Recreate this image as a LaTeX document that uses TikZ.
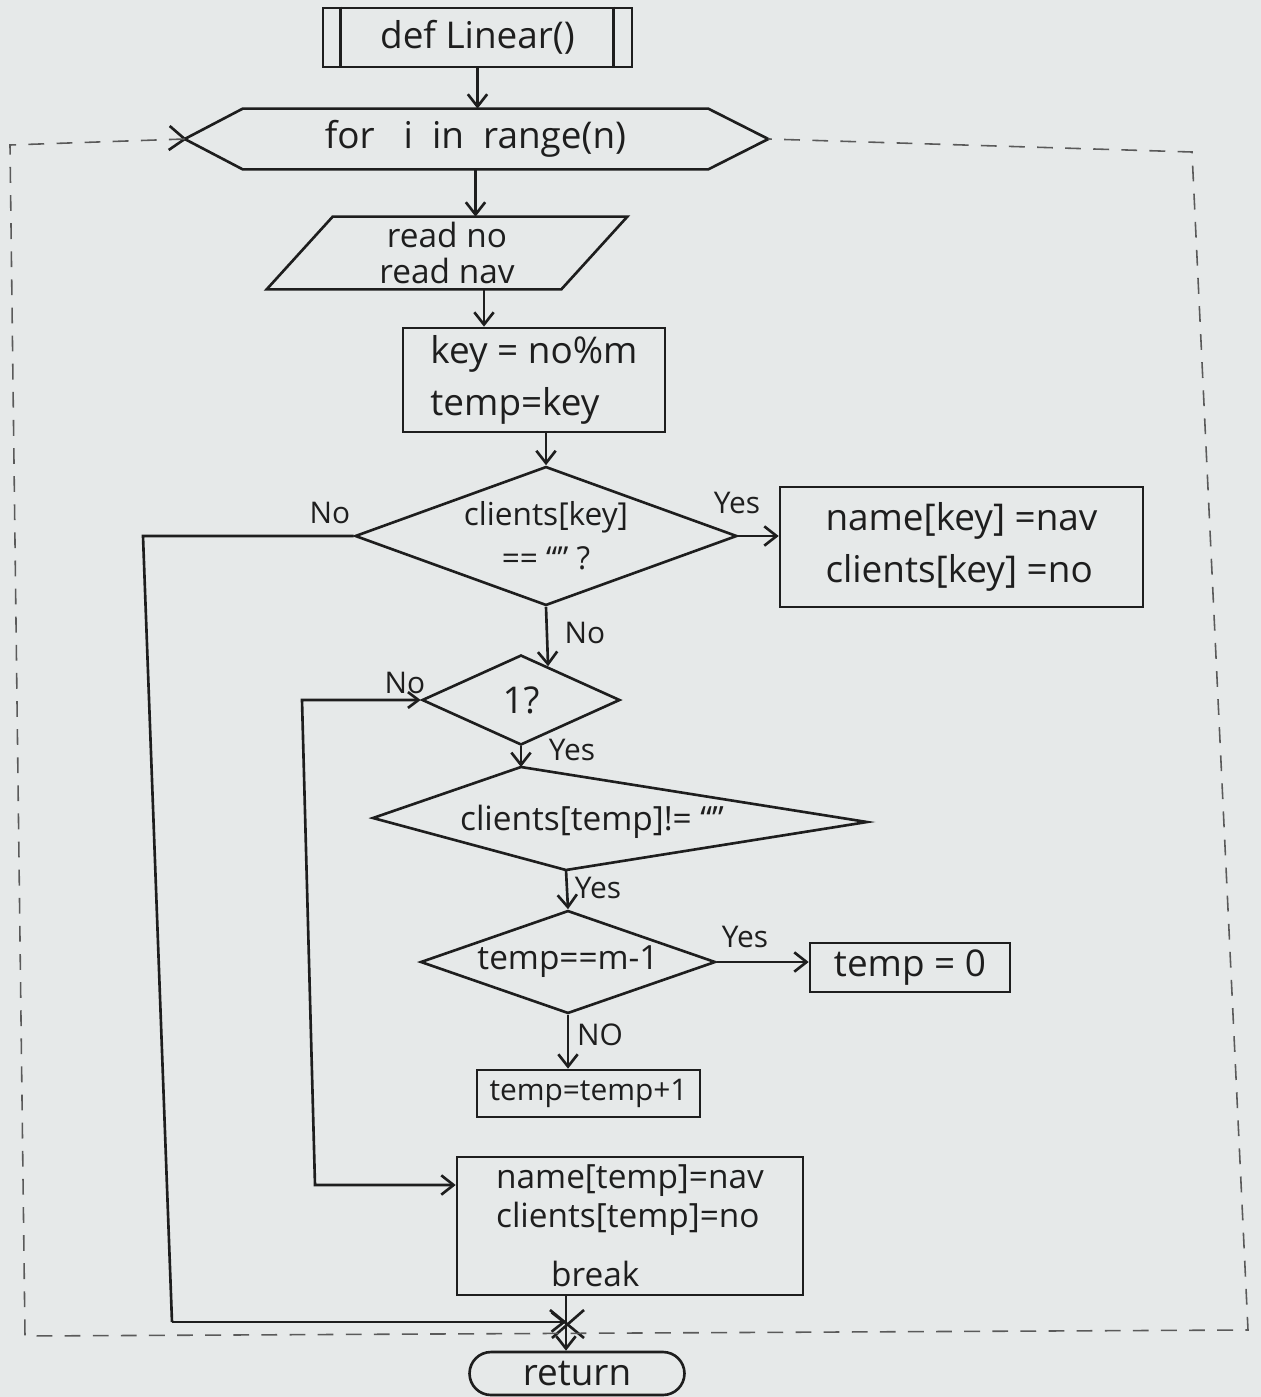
\documentclass[tikz,border=0pt]{standalone}
\usepackage{fontspec}
\setmainfont{Open Sans}
\usetikzlibrary{arrows.meta,shapes.geometric,calc}
\definecolor{ink}{HTML}{1E1E1E}
\definecolor{paper}{HTML}{E6E9E9}
\definecolor{dashink}{HTML}{5A5A5A}
\begin{document}
\begin{tikzpicture}[x=0.02cm,y=-0.02cm,
  ln/.style={draw=ink, line width=1.5pt},
  arr/.style={ln, -{Straight Barb[length=7pt,width=11pt]}},
  lbl/.style={font=\fontsize{17}{20}\selectfont, text=ink},
  txt/.style={font=\fontsize{21}{28}\selectfont, text=ink, inner sep=0pt},
  boxs/.style={txt, draw=ink, line width=1.5pt, rectangle},
  dia/.style={draw=ink, line width=1.5pt, diamond, inner sep=0pt},
  loopline/.style={draw=dashink, line width=0.9pt, dash pattern=on 9pt off 7pt}]
\fill[paper] (0,0) rectangle (1261,1397);
\useasboundingbox (0,0) rectangle (1261,1397);

% def Linear()
\node[boxs, minimum width=6.18cm, minimum height=1.18cm] (def) at (477.5,37.5) {def Linear()};
\draw[ln] ([xshift=0.38cm]def.north west) -- ([xshift=0.38cm]def.south west);
\draw[ln] ([xshift=-0.4cm]def.north east) -- ([xshift=-0.4cm]def.south east);

% for loop hexagon
\node[txt, minimum width=9.3cm, minimum height=1.2cm] (for) at (475.5,139) {for\ \ \ i\ \ in\ \ range(n)};
\coordinate (forL) at ([xshift=-1.16cm]for.west);
\coordinate (forR) at ([xshift=1.2cm]for.east);
\draw[ln] (for.north west) -- (for.north east) -- (forR) -- (for.south east) -- (for.south west) -- (forL) -- cycle;

% read parallelogram
\node[txt, align=center, minimum width=5.88cm, minimum height=1.44cm, font=\fontsize{19}{21}\selectfont] (read) at (447,253) {read no\\read nav};
\draw[ln] ([xshift=0.66cm]read.north west) -- ([xshift=0.66cm]read.north east) -- ([xshift=-0.66cm]read.south east) -- ([xshift=-0.66cm]read.south west) -- cycle;

% key box
\node[boxs, align=left, minimum width=5.24cm, minimum height=2.08cm, font=\fontsize{21}{30}\selectfont] (key) at (534,380) {key = no\%m\\temp=key};

% decision 1
\node[dia, minimum width=7.64cm, minimum height=2.78cm] (d1) at (546,536) {};
\node[txt, align=center, font=\fontsize{18}{25}\selectfont] (d1t) at (d1.center) {clients[key]\\== “” ?};

% name/clients box
\node[boxs, align=left, minimum width=7.26cm, minimum height=2.4cm, font=\fontsize{21}{30}\selectfont] (nm) at (961.5,547) {name[key] =nav\\clients[key] =no};

% decision 2
\node[dia, minimum width=3.96cm, minimum height=1.8cm] (d2) at (521,700) {};
\node[txt] (d2t) at (d2.center) {1?};

% decision 3 (skewed)
\coordinate (d3l) at (373,818);
\coordinate (d3t) at (521,767);
\coordinate (d3r) at (867,822);
\coordinate (d3b) at (566,870);
\draw[ln] (d3l) -- (d3t) -- (d3r) -- (d3b) -- cycle;
\node[txt, font=\fontsize{19}{24}\selectfont] (d3) at (592,822) {clients[temp]!= “”};

% decision 4
\node[dia, minimum width=5.9cm, minimum height=2.06cm] (d4) at (568,962) {};
\node[txt, font=\fontsize{19}{24}\selectfont] (d4t) at (d4.center) {temp==m-1};

% temp = 0
\node[boxs, minimum width=4cm, minimum height=0.98cm] (t0) at (910,967.5) {temp = 0};
% temp = temp+1
\node[boxs, minimum width=4.46cm, minimum height=0.94cm, font=\fontsize{17}{22}\selectfont] (tp1) at (588.5,1093.5) {temp=temp+1};

% final box
\node[boxs, align=left, minimum width=6.92cm, minimum height=2.76cm, font=\fontsize{19}{22}\selectfont] (fin) at (630,1226) {name[temp]=nav\\clients[temp]=no\\[12pt]\hspace*{1.1cm}break};

% return
\node[txt, draw=ink, line width=1.5pt, rounded corners=0.43cm, minimum width=4.3cm, minimum height=0.86cm] (ret) at (577,1373.5) {return};

% labels
\node[lbl] (l1) at (330,513) {No};
\node[lbl] (l2) at (737,503) {Yes};
\node[lbl] (l3) at (585,633) {No};
\node[lbl] (l4) at (405,683) {No};
\node[lbl] (l5) at (572,750) {Yes};
\node[lbl] (l6) at (598,888) {Yes};
\node[lbl] (l7) at (745,937) {Yes};
\node[lbl] (l8) at (600,1035) {NO};

% helper coordinates
\coordinate (c1) at (143,536);
\coordinate (c2) at (172,1322);
\coordinate (jn) at (566,1322);
\coordinate (c3) at (302,700);
\coordinate (c4) at (315,1185);

% connectors
\draw[arr] (def.south) -- (def.south |- for.north);
\draw[arr] (for.south) -- (for.south |- read.north);
\draw[arr] ([xshift=0.74cm]read.south) -- ([xshift=0.74cm]read.south |- key.north);
\draw[arr] (d1.north |- key.south) -- (d1.north);
\draw[arr] (d1.east) -- (d1.east -| nm.west);
\draw[ln] (d1.west) -- (c1) -- (c2);
\draw[arr] (c2) -- (jn);
\draw[arr] (d1.south) -- ($(d2.north)!0.27!(d2.east)$);
\draw[arr] (d2.south) -- (d3t);
\draw[arr] (d3b) -- (d4.north);
\draw[arr] (d4.east) -- (d4.east -| t0.west);
\draw[arr] (d4.south) -- (d4.south |- tp1.north);
\draw[ln, {Straight Barb[length=6pt,width=9pt]}-{Straight Barb[length=7pt,width=11pt]}] (d2.west) -- (c3) -- (c4) -- (c4 -| fin.west);
\draw[arr] (fin.south -| jn) -- (ret.north -| jn);

% cross marks
\draw[ln] ($(jn)+(-16,-12)$) -- ($(jn)+(18,16)$);
\draw[ln] ($(jn)+(18,-12)$) -- ($(jn)+(-14,16)$);
\draw[ln] (forL) -- ++(-15,-13);
\draw[ln] (forL) -- ++(-16,11);

% loop boundary
\draw[loopline] (forL) -- (10,145) -- (25,1336) -- (1248,1330) -- (1192,152) -- (forR);
\end{tikzpicture}
\end{document}
